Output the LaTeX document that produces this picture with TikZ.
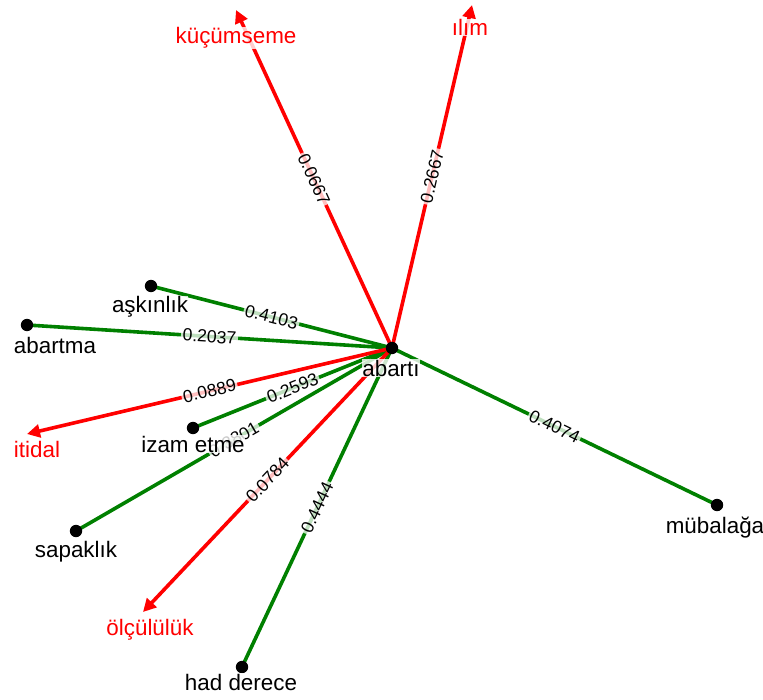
\documentclass[tikz,border=0pt]{standalone}
\usepackage{fontspec}
\setmainfont{Liberation Sans}
\usetikzlibrary{arrows.meta}
\definecolor{edgered}{RGB}{255,0,0}
\definecolor{edgegreen}{RGB}{0,128,0}
\pgfdeclarelayer{edges}
\pgfsetlayers{edges,main}
\begin{document}
\begin{tikzpicture}[x=0.5pt,y=-0.5pt,
  dot/.style={circle,fill=black,inner sep=0pt,minimum size=6.2pt},
  conn/.style={line width=1.8pt},
  posedge/.style={conn,draw=edgegreen},
  negedge/.style={conn,draw=edgered,-{Triangle[length=6.5pt,width=6.5pt]}},
  wlabel/.style={font=\fontsize{8.8}{10}\selectfont,text=black,fill=white,
    fill opacity=0.75,text opacity=1,inner sep=0.8pt,midway,sloped},
  nlabel/.style={font=\fontsize{11.2}{12}\selectfont,fill=white,
    fill opacity=0.8,text opacity=1,inner sep=0.2pt,anchor=base},
  poslabel/.style={nlabel,text=black},
  neglabel/.style={nlabel,text=edgered},
]
\useasboundingbox (0,0) rectangle (763,699);

% term nodes
\node[dot] (abarti)   at (392,348) {};
\node[dot] (askinlik) at (151,286) {};
\node[dot] (abartma)  at (27,325)  {};
\node[dot] (izam)     at (193,428) {};
\node[dot] (sapaklik) at (76,531)  {};
\node[dot] (had)      at (242,667) {};
\node[dot] (mubalaga) at (717,505) {};

% free ends of the opposing relations
\coordinate (kucumseme) at (236,10);
\coordinate (ilim)      at (472,5);
\coordinate (itidal)    at (27,434);
\coordinate (olculuk)   at (143,612);

\begin{pgfonlayer}{edges}
  \draw[posedge] (abarti.center) -- (askinlik.center) node[wlabel] {0.4103};
  \draw[posedge] (abarti.center) -- (abartma.center)  node[wlabel] {0.2037};
  \draw[posedge] (abarti.center) -- (izam.center)     node[wlabel] {0.2593};
  \draw[posedge] (abarti.center) -- (sapaklik.center) node[wlabel] {0.3801};
  \draw[posedge] (abarti.center) -- (had.center)      node[wlabel] {0.4444};
  \draw[posedge] (abarti.center) -- (mubalaga.center) node[wlabel] {0.4074};
  \draw[negedge] (abarti.center) -- (kucumseme) node[wlabel] {0.0667};
  \draw[negedge] (abarti.center) -- (ilim)      node[wlabel] {0.2667};
  \draw[negedge] (abarti.center) -- (itidal)    node[wlabel] {0.0889};
  \draw[negedge] (abarti.center) -- (olculuk)   node[wlabel] {0.0784};
\end{pgfonlayer}

% term labels
\node[poslabel] (l-abarti)   at (391,376) {abartı};
\node[poslabel] (l-askinlik) at (150,313) {aşkınlık};
\node[poslabel] (l-abartma)  at (55,353)  {abartma};
\node[poslabel] (l-izam)     at (193,452) {izam etme};
\node[poslabel] (l-sapaklik) at (76,557)  {sapaklık};
\node[poslabel] (l-had)      at (241,690) {had derece};
\node[poslabel] (l-mubalaga) at (715,533) {mübalağa};
\node[neglabel] (l-kucumseme) at (236,44) {küçümseme};
\node[neglabel] (l-ilim)      at (470,36) {ılım};
\node[neglabel] (l-itidal)    at (37,457) {itidal};
\node[neglabel] (l-olculuk)   at (150,635) {ölçülülük};
\end{tikzpicture}
\end{document}
